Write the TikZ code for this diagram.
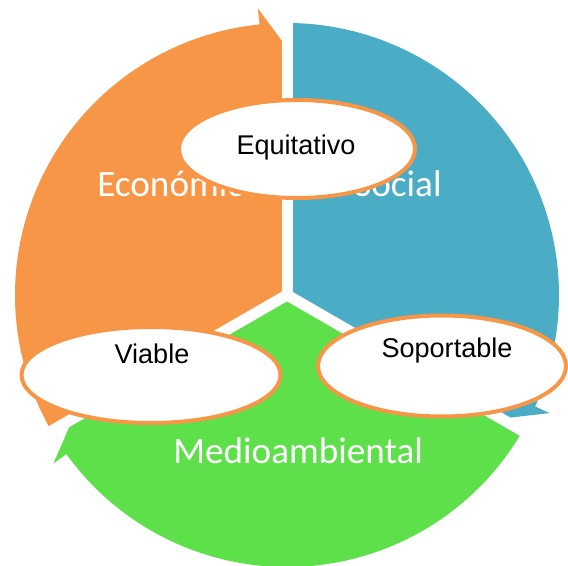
\documentclass[tikz,border=0pt]{standalone}
\usepackage{fontspec}
\setmainfont{Liberation Sans}
\newfontfamily\segfont{Carlito}
\usetikzlibrary{calc,shapes.geometric}
\definecolor{segorange}{RGB}{247,150,70}
\definecolor{segblue}{RGB}{75,172,198}
\definecolor{seggreen}{RGB}{94,224,74}
% one arrow segment of the cycle: #1 = angle of its arrow end, #2 = colour
\newcommand\cycleseg[2]{%
  \fill[#2] (C) -- ($(C)+(#1+120:\segR)$)
    arc[start angle=#1+120, end angle=#1+5.8, radius=204pt]
    -- ($(C)+(#1+5.8:\segRb)$) -- ($(C)+(#1:\segRt)$) -- cycle;}
\def\segR{272}
\def\segRb{288}
\def\segRt{247.3}
\begin{document}
\begin{tikzpicture}[x=0.75pt,y=0.75pt,
  gapline/.style={draw=white,line width=8.25pt},
  seglabel/.style={text=white,font=\segfont\fontsize{27.9}{31}\selectfont,inner sep=0pt,anchor=base west},
  ellbox/.style={ellipse,draw=segorange,line width=3pt,fill=white,inner sep=0pt},
  elltext/.style={font=\fontsize{20.3}{23}\selectfont,inner sep=0pt,anchor=base}]
\useasboundingbox (0,0) rectangle (568,565);
\coordinate (C) at (287,270);

% the three arrow segments
\cycleseg{90}{segorange}
\cycleseg{-30}{segblue}
\cycleseg{210}{seggreen}

% white gaps between the segments
\draw[gapline] (C) -- ($(C)+(90:300)$);
\draw[gapline] (C) -- ($(C)+(210:300)$);
\draw[gapline] (C) -- ($(C)+(330:300)$);

% segment titles
\node[seglabel] (eco) at (97,368) {Económico};
\node[seglabel] (soc) at (354,368) {Social};
\node[seglabel] (med) at (173,102) {Medioambiental};

% overlapping qualities
\node[ellbox,minimum width=177pt,minimum height=73.5pt] (equi) at (297,416) {};
\node[ellbox,minimum width=194.25pt,minimum height=72pt] (viab) at (151,190) {};
\node[ellbox,minimum width=186pt,minimum height=75.75pt] (sopo) at (442,199) {};

\node[elltext] (equit) at (296,410) {Equitativo};
\node[elltext] (viabt) at (152,202) {Viable};
\node[elltext] (sopot) at (447,208) {Soportable};
\end{tikzpicture}
\end{document}
